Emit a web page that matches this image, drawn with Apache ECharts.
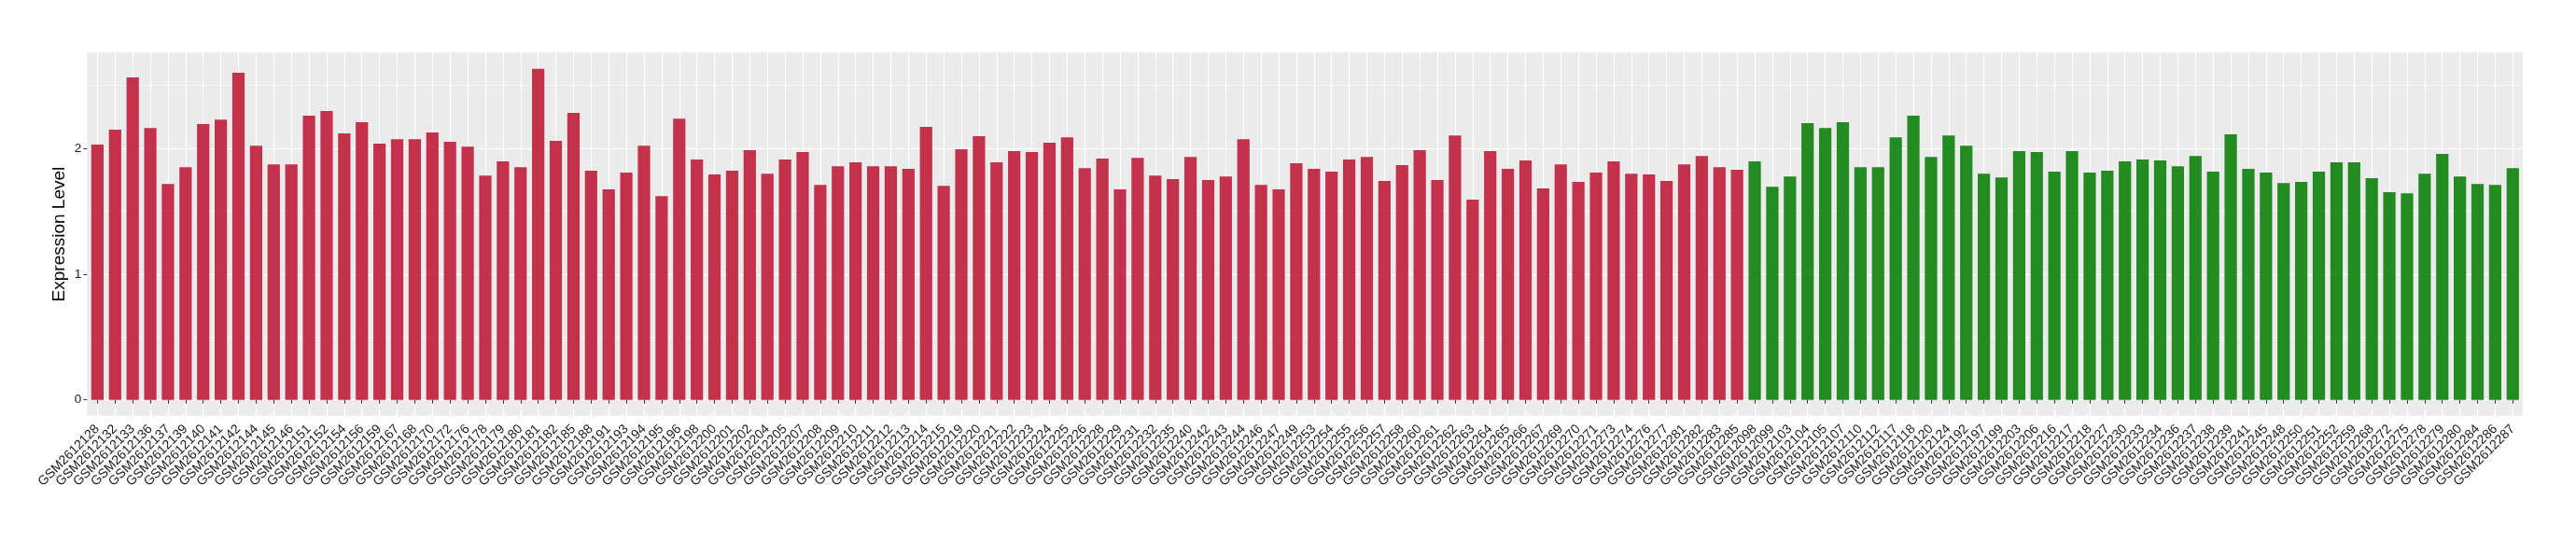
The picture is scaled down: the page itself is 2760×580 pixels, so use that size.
<!DOCTYPE html>
<html>
<head>
<meta charset="utf-8">
<script src="https://cdn.jsdelivr.net/npm/echarts@6.0.0/dist/echarts.min.js"></script>
<style>
  html, body { margin: 0; padding: 0; background: #ffffff; }
  #chart { width: 2760px; height: 580px; }
</style>
</head>
<body>
<div id="chart"></div>
<script>
// ---- Data ----
const redCategories = [
  "GSM2612128","GSM2612132","GSM2612133","GSM2612136","GSM2612137","GSM2612139","GSM2612140","GSM2612141",
  "GSM2612142","GSM2612144","GSM2612145","GSM2612146","GSM2612151","GSM2612152","GSM2612154","GSM2612156",
  "GSM2612159","GSM2612167","GSM2612168","GSM2612170","GSM2612172","GSM2612176","GSM2612178","GSM2612179",
  "GSM2612180","GSM2612181","GSM2612182","GSM2612185","GSM2612188","GSM2612191","GSM2612193","GSM2612194",
  "GSM2612195","GSM2612196","GSM2612198","GSM2612200","GSM2612201","GSM2612202","GSM2612204","GSM2612205",
  "GSM2612207","GSM2612208","GSM2612209","GSM2612210","GSM2612211","GSM2612212","GSM2612213","GSM2612214",
  "GSM2612215","GSM2612219","GSM2612220","GSM2612221","GSM2612222","GSM2612223","GSM2612224","GSM2612225",
  "GSM2612226","GSM2612228","GSM2612229","GSM2612231","GSM2612232","GSM2612235","GSM2612240","GSM2612242",
  "GSM2612243","GSM2612244","GSM2612246","GSM2612247","GSM2612249","GSM2612253","GSM2612254","GSM2612255",
  "GSM2612256","GSM2612257","GSM2612258","GSM2612260","GSM2612261","GSM2612262","GSM2612263","GSM2612264",
  "GSM2612265","GSM2612266","GSM2612267","GSM2612269","GSM2612270","GSM2612271","GSM2612273","GSM2612274",
  "GSM2612276","GSM2612277","GSM2612281","GSM2612282","GSM2612283","GSM2612285"
];
const redValues = [
  2.028,2.148,2.562,2.161,1.716,1.849,2.192,2.227,
  2.600,2.020,1.872,1.872,2.258,2.296,2.118,2.207,
  2.036,2.072,2.072,2.125,2.051,2.013,1.783,1.895,
  1.849,2.631,2.059,2.281,1.821,1.673,1.806,2.020,
  1.619,2.235,1.911,1.791,1.821,1.985,1.798,1.911,
  1.969,1.709,1.857,1.888,1.857,1.857,1.837,2.169,
  1.701,1.992,2.095,1.888,1.977,1.969,2.043,2.087,
  1.842,1.918,1.673,1.923,1.783,1.755,1.931,1.747,
  1.775,2.072,1.709,1.673,1.880,1.837,1.814,1.911,
  1.931,1.739,1.865,1.985,1.747,2.102,1.591,1.977,
  1.837,1.903,1.681,1.872,1.732,1.806,1.895,1.798,
  1.791,1.739,1.872,1.939,1.849,1.829
];
const greenCategories = [
  "GSM2612098","GSM2612099","GSM2612103","GSM2612104","GSM2612105","GSM2612107","GSM2612110","GSM2612112",
  "GSM2612117","GSM2612118","GSM2612120","GSM2612124","GSM2612192","GSM2612197","GSM2612199","GSM2612203",
  "GSM2612206","GSM2612216","GSM2612217","GSM2612218","GSM2612227","GSM2612230","GSM2612233","GSM2612234",
  "GSM2612236","GSM2612237","GSM2612238","GSM2612239","GSM2612241","GSM2612245","GSM2612248","GSM2612250",
  "GSM2612251","GSM2612252","GSM2612259","GSM2612268","GSM2612272","GSM2612275","GSM2612278","GSM2612279",
  "GSM2612280","GSM2612284","GSM2612286","GSM2612287"
];
const greenValues = [
  1.895,1.693,1.775,2.199,2.161,2.207,1.849,1.849,
  2.087,2.258,1.931,2.102,2.020,1.798,1.768,1.977,
  1.969,1.814,1.977,1.806,1.821,1.895,1.911,1.903,
  1.857,1.939,1.814,2.110,1.837,1.806,1.724,1.732,
  1.814,1.888,1.888,1.762,1.650,1.642,1.798,1.954,
  1.775,1.716,1.709,1.842
];
const yTickValues = [0, 1, 2];
const yAxisTitle = "Expression Level";

// ---- Styles ----
const RED = "#C3324A";
const GREEN = "#228B22";
const FONT = "'Liberation Sans', Arial, Helvetica, sans-serif";

const categories = redCategories.concat(greenCategories);
const barData = redValues.map(v => ({ value: v, itemStyle: { color: RED } }))
  .concat(greenValues.map(v => ({ value: v, itemStyle: { color: GREEN } })));

// layout (px)
const n = categories.length;
const firstTick = 104.4, lastTick = 2692.3;
const step = (lastTick - firstTick) / (n - 1);
const barLeft = firstTick - step / 2;
const barWidthTotal = step * n;
const panelLeft = 93.3, panelTop = 56.3, panelRight = 2702.7, panelBottom = 445.8;
const zeroY = 428.7, unitPx = 134.9;
const yMaxGrid = 3;

const chart = echarts.init(document.getElementById('chart'), null, { renderer: 'canvas', width: 2760, height: 580 });

const option = {
  animation: false,
  backgroundColor: '#ffffff',
  textStyle: { fontFamily: FONT },
  grid: [
    { // bars grid (value 0..3)
      left: barLeft, width: barWidthTotal,
      top: zeroY - yMaxGrid * unitPx, height: yMaxGrid * unitPx,
      containLabel: false, outerBoundsMode: 'none', show: false
    },
    { // vertical grid lines at category centers + y title
      left: firstTick, width: lastTick - firstTick,
      top: panelTop, height: panelBottom - panelTop,
      containLabel: false, outerBoundsMode: 'none', show: false
    },
    { // panel background
      left: panelLeft, width: panelRight - panelLeft,
      top: panelTop, height: panelBottom - panelTop,
      containLabel: false, outerBoundsMode: 'none',
      show: true, backgroundColor: '#EBEBEB', borderWidth: 0
    }
  ],
  xAxis: [
    {
      type: 'category', gridIndex: 0, data: categories,
      offset: panelBottom - zeroY,
      axisLine: { show: false },
      axisTick: { show: true, alignWithLabel: true, interval: 0, length: 4, lineStyle: { color: '#333333', width: 1 } },
      axisLabel: { show: true, interval: 0, rotate: 45, fontSize: 14, color: '#1a1a1a', margin: 12, fontFamily: FONT },
      splitLine: { show: false }
    },
    {
      type: 'category', gridIndex: 1, data: categories, boundaryGap: false,
      axisLine: { show: false }, axisTick: { show: false }, axisLabel: { show: false },
      splitLine: { show: true, interval: 0, lineStyle: { color: '#ffffff', width: 1.2 } }
    },
    {
      type: 'value', gridIndex: 2, min: 0, max: 1, show: false
    }
  ],
  yAxis: [
    {
      type: 'value', gridIndex: 0, min: 0, max: yMaxGrid, interval: 1,
      offset: barLeft - panelLeft,
      axisLine: { show: false },
      axisTick: { show: true, length: 4, customValues: yTickValues, lineStyle: { color: '#333333', width: 1 } },
      axisLabel: { show: true, customValues: yTickValues, fontSize: 13.5, color: '#1a1a1a', margin: 6, fontFamily: FONT,
        formatter: v => (yTickValues.indexOf(v) >= 0 ? String(v) : '') },
      splitLine: { show: true, lineStyle: { color: '#ffffff', width: 1.2 } },
      minorTick: { show: false, splitNumber: 2 },
      minorSplitLine: { show: true, lineStyle: { color: '#ffffff', width: 0.6 } }
    },
    {
      type: 'value', gridIndex: 1, min: 0, max: 1,
      axisLine: { show: false }, axisTick: { show: false }, axisLabel: { show: false }, splitLine: { show: false },
      name: yAxisTitle, nameLocation: 'middle', nameGap: 31,
      nameTextStyle: { fontSize: 19, color: '#000000', fontFamily: FONT }
    },
    {
      type: 'value', gridIndex: 2, min: 0, max: 1, show: false
    }
  ],
  series: [
    {
      type: 'bar', xAxisIndex: 0, yAxisIndex: 0,
      data: barData,
      barCategoryGap: '30%',
      z: 2
    }
  ]
};
chart.setOption(option);
</script>
</body>
</html>
